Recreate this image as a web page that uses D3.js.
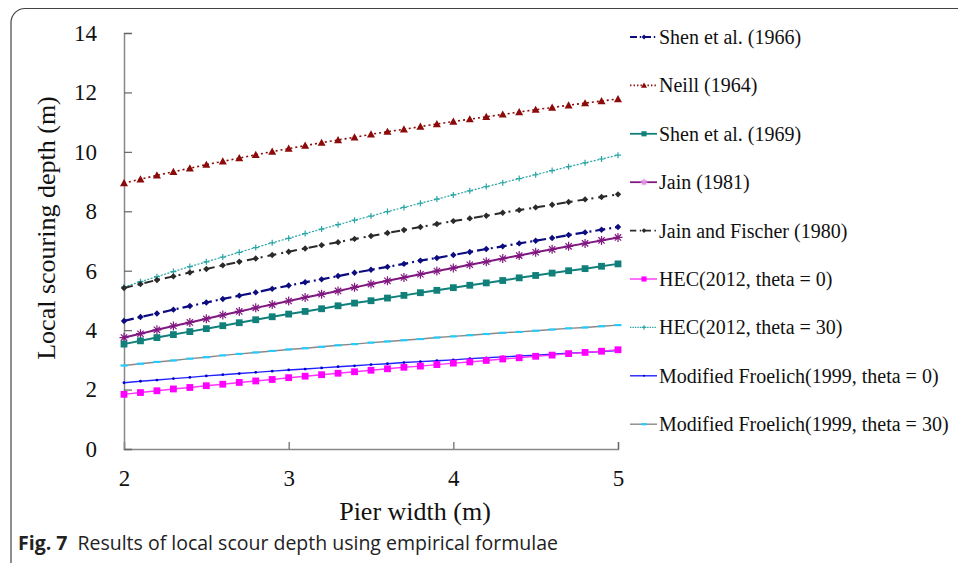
<!DOCTYPE html>
<html>
<head>
<meta charset="utf-8">
<script src="https://cdn.jsdelivr.net/npm/d3@7"></script>
<style>
  body { margin: 0; background: #fff; }
  svg { display: block; }
</style>
</head>
<body>
<svg id="chart" width="958" height="563"></svg>
<script>
// pier width, 2 to 5 m in steps of 0.1
const pierWidth = [2.0, 2.1, 2.2, 2.3, 2.4, 2.5, 2.6, 2.7, 2.8, 2.9, 3.0, 3.1, 3.2, 3.3, 3.4, 3.5,
    3.6, 3.7, 3.8, 3.9, 4.0, 4.1, 4.2, 4.3, 4.4, 4.5, 4.6, 4.7, 4.8, 4.9, 5.0];

const shen1966 = [4.31, 4.44, 4.56, 4.69, 4.81, 4.93, 5.05, 5.16, 5.27, 5.39, 5.50, 5.61, 5.71, 5.82,
    5.93, 6.03, 6.13, 6.23, 6.34, 6.43, 6.53, 6.63, 6.73, 6.82, 6.92, 7.01, 7.10, 7.20, 7.29, 7.38, 7.47];
const neill1964 = [8.95, 9.08, 9.21, 9.33, 9.45, 9.57, 9.68, 9.79, 9.90, 10.01, 10.11, 10.21, 10.31, 10.40,
    10.49, 10.59, 10.68, 10.76, 10.85, 10.94, 11.02, 11.10, 11.18, 11.26, 11.34, 11.42, 11.49, 11.57, 11.64, 11.71, 11.78];
const shen1969 = [3.53, 3.64, 3.75, 3.85, 3.95, 4.05, 4.15, 4.25, 4.35, 4.45, 4.54, 4.63, 4.72, 4.82,
    4.91, 4.99, 5.08, 5.17, 5.26, 5.34, 5.43, 5.51, 5.59, 5.67, 5.76, 5.84, 5.92, 6.00, 6.07, 6.15, 6.23];
const jain1981 = [3.75, 3.88, 4.01, 4.14, 4.26, 4.38, 4.51, 4.63, 4.75, 4.86, 4.98, 5.10, 5.21, 5.32,
    5.44, 5.55, 5.66, 5.77, 5.88, 5.99, 6.09, 6.20, 6.30, 6.41, 6.51, 6.62, 6.72, 6.82, 6.92, 7.02, 7.12];
const jainFischer = [5.42, 5.55, 5.69, 5.81, 5.94, 6.06, 6.18, 6.30, 6.41, 6.53, 6.64, 6.75, 6.86, 6.96,
    7.07, 7.17, 7.27, 7.37, 7.47, 7.57, 7.67, 7.76, 7.85, 7.95, 8.04, 8.13, 8.22, 8.31, 8.40, 8.48, 8.57];
const hec0 = [1.84, 1.90, 1.96, 2.02, 2.07, 2.13, 2.18, 2.24, 2.29, 2.34, 2.40, 2.45, 2.50, 2.55,
    2.60, 2.65, 2.70, 2.75, 2.79, 2.84, 2.89, 2.93, 2.98, 3.03, 3.07, 3.12, 3.16, 3.21, 3.25, 3.29, 3.34];
const hec30 = [5.45, 5.63, 5.80, 5.97, 6.14, 6.30, 6.46, 6.62, 6.78, 6.94, 7.09, 7.25, 7.40, 7.55,
    7.70, 7.84, 7.99, 8.13, 8.27, 8.41, 8.55, 8.69, 8.83, 8.96, 9.10, 9.23, 9.37, 9.50, 9.63, 9.76, 9.89];
const froelich0 = [2.23, 2.28, 2.32, 2.37, 2.41, 2.46, 2.50, 2.54, 2.58, 2.62, 2.66, 2.69, 2.73, 2.77,
    2.80, 2.84, 2.87, 2.91, 2.94, 2.97, 3.00, 3.04, 3.07, 3.10, 3.13, 3.16, 3.19, 3.22, 3.25, 3.28, 3.31];
const froelich30 = [2.81, 2.87, 2.93, 2.98, 3.04, 3.09, 3.15, 3.20, 3.25, 3.30, 3.35, 3.39, 3.44, 3.49,
    3.53, 3.58, 3.62, 3.66, 3.70, 3.75, 3.79, 3.83, 3.87, 3.91, 3.94, 3.98, 4.02, 4.06, 4.09, 4.13, 4.17];

const xTicks = [2, 3, 4, 5];
const yTicks = [0, 2, 4, 6, 8, 10, 12, 14];

// legend order, line styles
const series = [
    { name: 'Shen et al. (1966)', values: shen1966, color: '#0c0c80', width: 2.2, dash: '10,4,2,4', marker: 'diamond', mcolor: '#0c0c80', msize: 3.2 },
    { name: 'Neill (1964)', values: neill1964, color: '#8b0a0a', width: 1.6, dash: '2,3', marker: 'triangle', mcolor: '#8b0a0a', msize: 4 },
    { name: 'Shen et al. (1969)', values: shen1969, color: '#11807a', width: 2, dash: null, marker: 'square', mcolor: '#11807a', msize: 3.4 },
    { name: 'Jain (1981)', values: jain1981, color: '#801880', width: 2, dash: null, marker: 'star', mcolor: '#801880', msize: 4.5 },
    { name: 'Jain and Fischer (1980)', values: jainFischer, color: '#2a2a2a', width: 2, dash: '9,5,2,5', marker: 'diamond', mcolor: '#2a2a2a', msize: 3.2 },
    { name: 'HEC(2012, theta = 0)', values: hec0, color: '#ff33ff', width: 1.4, dash: null, marker: 'square', mcolor: '#ff00ff', msize: 3.4 },
    { name: 'HEC(2012, theta = 30)', values: hec30, color: '#2aa5a5', width: 1.2, dash: '2,1.5', marker: 'plus', mcolor: '#2aa5a5', msize: 3 },
    { name: 'Modified Froelich(1999, theta = 0)', values: froelich0, color: '#2222ff', width: 1.4, dash: null, marker: 'dot', mcolor: '#0000cc', msize: 1.4 },
    { name: 'Modified Froelich(1999, theta = 30)', values: froelich30, color: '#888888', width: 1.4, dash: null, marker: 'dash', mcolor: '#22ccff', msize: 3.5 }
];

const svg = d3.select('#chart');
const margin = { left: 124, right: 340, top: 33, bottom: 114 };
const W = 958, H = 563;

// outer frame
svg.append('rect')
    .attr('x', 11).attr('y', 8.5)
    .attr('width', 970).attr('height', 580)
    .attr('rx', 14)
    .attr('fill', 'none')
    .attr('stroke', '#444')
    .attr('stroke-width', 1.2);

const x = d3.scaleLinear().domain([2, 5]).range([margin.left, W - margin.right]);
const y = d3.scaleLinear().domain([0, 14]).range([H - margin.bottom, margin.top]);

const g = svg.append('g');

// axes
const xAxis = g.append('g')
    .attr('transform', `translate(0,${y(0)})`)
    .call(d3.axisBottom(x).tickValues(xTicks).tickSize(-7).tickPadding(21).tickFormat(d3.format('d')));
const yAxis = g.append('g')
    .attr('transform', `translate(${x(2)},0)`)
    .call(d3.axisLeft(y).tickValues(yTicks).tickSize(-8).tickPadding(27).tickFormat(d3.format('d')));

[xAxis, yAxis].forEach(a => {
    a.select('.domain').attr('stroke', '#888').attr('stroke-width', 1.5);
    a.selectAll('.tick line').attr('stroke', '#666').attr('stroke-width', 1.2);
    a.selectAll('.tick text')
        .attr('fill', '#111')
        .style('font-family', '"Liberation Serif", serif')
        .style('font-size', '23px');
});

// axis titles
svg.append('text')
    .attr('x', 415).attr('y', 520)
    .attr('text-anchor', 'middle')
    .style('font-family', '"Liberation Serif", serif')
    .style('font-size', '26px')
    .attr('fill', '#111')
    .text('Pier width (m)');

svg.append('text')
    .attr('transform', `translate(55,${y(7) - 13}) rotate(-90)`)
    .attr('text-anchor', 'middle')
    .style('font-family', '"Liberation Serif", serif')
    .style('font-size', '26px')
    .attr('fill', '#111')
    .text('Local scouring depth (m)');

// markers
function drawMarker(sel, type, color, s) {
    if (type === 'diamond') {
        sel.append('path').attr('d', `M0,${-s}L${s},0L0,${s}L${-s},0Z`).attr('fill', color);
    } else if (type === 'triangle') {
        sel.append('path').attr('d', `M0,${-s}L${s},${s * 0.8}L${-s},${s * 0.8}Z`).attr('fill', color);
    } else if (type === 'square') {
        sel.append('rect').attr('x', -s).attr('y', -s).attr('width', 2 * s).attr('height', 2 * s).attr('fill', color);
    } else if (type === 'star') {
        const d = s * 0.7;
        sel.append('path')
            .attr('d', `M${-s},0L${s},0M0,${-s}L0,${s}M${-d},${-d}L${d},${d}M${-d},${d}L${d},${-d}`)
            .attr('stroke', color).attr('stroke-width', 1.2).attr('fill', 'none');
    } else if (type === 'plus') {
        sel.append('path').attr('d', `M${-s},0L${s},0M0,${-s}L0,${s}`)
            .attr('stroke', color).attr('stroke-width', 1.2).attr('fill', 'none');
    } else if (type === 'dot') {
        sel.append('circle').attr('r', s).attr('fill', color);
    } else if (type === 'dash') {
        sel.append('path').attr('d', `M${-s},0L${s},0`)
            .attr('stroke', color).attr('stroke-width', 2.2);
    }
}

const line = d3.line().x((d, i) => x(pierWidth[i])).y(d => y(d));

// draw bottom series first so upper ones stay on top
series.slice().reverse().forEach(s => {
    const sg = g.append('g');
    sg.append('path')
        .datum(s.values)
        .attr('d', line)
        .attr('fill', 'none')
        .attr('stroke', s.color)
        .attr('stroke-width', s.width)
        .attr('stroke-dasharray', s.dash);
    sg.selectAll('g.m')
        .data(s.values)
        .join('g')
        .attr('class', 'm')
        .attr('transform', (d, i) => `translate(${x(pierWidth[i])},${y(d)})`)
        .each(function() { drawMarker(d3.select(this), s.marker, s.mcolor, s.msize); });
});

// legend
const legend = svg.append('g').attr('transform', 'translate(630,37)');
series.forEach((s, i) => {
    const row = legend.append('g').attr('transform', `translate(0,${i * 48.4})`);
    row.append('line')
        .attr('x1', 0).attr('x2', 27)
        .attr('stroke', s.color)
        .attr('stroke-width', Math.min(s.width, 1.8))
        .attr('stroke-dasharray', s.dash ? s.dash.split(',').map(v => v * 0.7).join(',') : null);
    const m = row.append('g').attr('transform', 'translate(14,0)');
    drawMarker(m, s.marker, s.marker === 'star' ? '#e58fe5' : s.mcolor, s.msize * 0.75);
    row.append('text')
        .attr('x', 29).attr('y', 7)
        .style('font-family', '"Liberation Serif", serif')
        .style('font-size', '20px')
        .attr('fill', '#111')
        .text(s.name);
});

// caption
const cap = svg.append('text')
    .attr('x', 18).attr('y', 550)
    .style('font-family', '"Open Sans", sans-serif')
    .style('font-size', '19.5px')
    .attr('fill', '#222');
cap.append('tspan').style('font-weight', 'bold').text('Fig. 7');
cap.append('tspan').attr('dx', 10).text('Results of local scour depth using empirical formulae');
</script>
</body>
</html>
